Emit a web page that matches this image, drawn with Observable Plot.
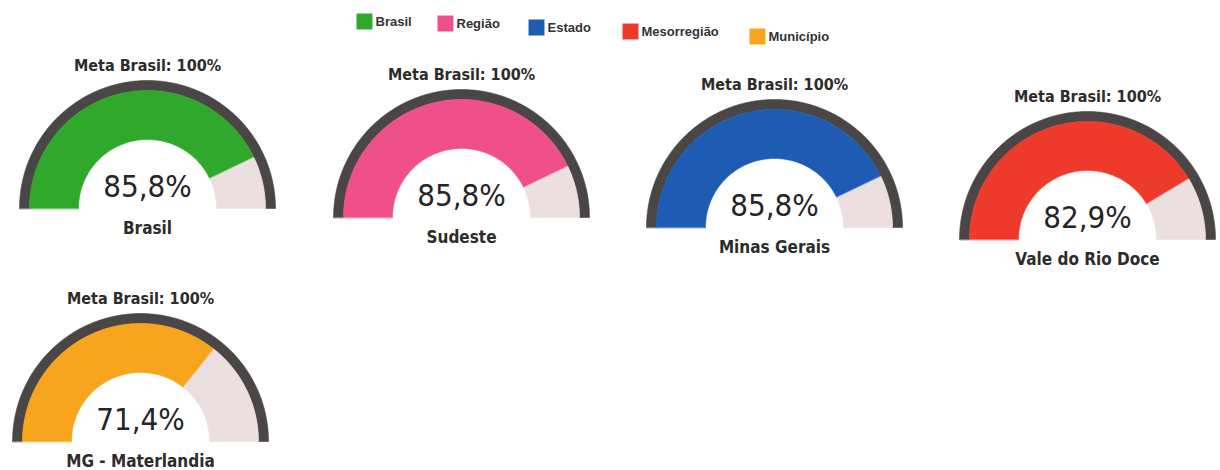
<!DOCTYPE html>
<html>
<head>
<meta charset="utf-8">
<script src="https://cdn.jsdelivr.net/npm/d3@7"></script>
<script src="https://cdn.jsdelivr.net/npm/@observablehq/plot@0.6"></script>
<style>
  html, body { margin: 0; padding: 0; background: #fff; }
  #chart svg { display: block; }
</style>
</head>
<body>
<div id="chart"></div>
<script>
// ---- data ----
const categories = ["Brasil", "Região", "Estado", "Mesorregião", "Município"];
const places = ["Brasil", "Sudeste", "Minas Gerais", "Vale do Rio Doce", "MG - Materlandia"];
const values = [85.8, 85.8, 85.8, 82.9, 71.4];
const goal = 100;
const goalLabel = "Meta Brasil: 100%";
const colors = ["#2fa82b", "#f0508a", "#1d5cb2", "#ee3a2a", "#f7a51c"];

// ---- layout (gauge centres on the baseline, legend positions) ----
const W = 1220, H = 470;
const centers = [[147, 208], [461, 217], [774, 227], [1087, 239], [140, 441]];
const R_OUT = 128, R_RING = 118, R_IN = 69;
const legendX = [364, 445, 536, 630, 757];
const legendY = [21, 23, 27, 31, 36];
const restColor = "#ecdfe0";
const ringColor = "#4b4646";
const fmt = v => v.toFixed(1).replace(".", ",") + "%";

// build band polygons (sampled along arcs) from the values
function band(id, cx, cy, f0, f1, r0, r1, color) {
  const pts = [];
  const n = Math.max(2, Math.ceil((f1 - f0) * 160));
  for (let i = 0; i <= n; i++) {
    const t = Math.PI * (1 - (f0 + (f1 - f0) * i / n));
    pts.push({id, x: cx + r1 * Math.cos(t), y: cy - r1 * Math.sin(t), color});
  }
  for (let i = n; i >= 0; i--) {
    const t = Math.PI * (1 - (f0 + (f1 - f0) * i / n));
    pts.push({id, x: cx + r0 * Math.cos(t), y: cy - r0 * Math.sin(t), color});
  }
  return pts;
}

const polys = [];
const gauges = places.map((p, i) => {
  const [cx, cy] = centers[i];
  const f = values[i] / goal;
  polys.push(...band(`ring${i}`, cx, cy, 0, 1, R_RING, R_OUT, ringColor));
  polys.push(...band(`val${i}`, cx, cy, 0, f, R_IN, R_RING, colors[i]));
  polys.push(...band(`rest${i}`, cx, cy, f, 1, R_IN, R_RING, restColor));
  return {place: p, value: values[i], cx, cy, color: colors[i]};
});

const legend = categories.map((c, i) => ({cat: c, x: legendX[i], y: legendY[i], color: colors[i]}));

const chart = Plot.plot({
  width: W,
  height: H,
  margin: 0,
  x: {domain: [0, W], range: [0, W], axis: null},
  y: {domain: [0, H], range: [0, H], axis: null},
  color: {type: "identity"},
  style: {background: "#fff"},
  marks: [
    Plot.line(polys, {x: "x", y: "y", z: "id", fill: "color", stroke: "color", strokeWidth: 0.6, curve: "linear-closed"}),
    Plot.text(gauges, {x: "cx", y: d => d.cy - 143, text: () => goalLabel, fontSize: 16, fontWeight: "bold",
      fontFamily: "DejaVu Sans Condensed", fill: "#2e2b2b"}),
    Plot.text(gauges, {x: "cx", y: d => d.cy - 21, text: d => fmt(d.value), fontSize: 31,
      fontFamily: "DejaVu Sans Condensed", fill: "#262424"}),
    Plot.text(gauges, {x: "cx", y: d => d.cy + 20, text: "place", fontSize: 17, fontWeight: "bold",
      fontFamily: "DejaVu Sans Condensed", fill: "#2e2b2b"}),
    Plot.dot(legend, {x: "x", y: "y", symbol: "square", r: 9, fill: "color", stroke: null}),
    Plot.text(legend, {x: d => d.x + 11, y: "y", text: "cat", textAnchor: "start", fontSize: 13, fontWeight: "bold",
      fontFamily: "Liberation Sans", fill: "#333"})
  ]
});
document.getElementById("chart").appendChild(chart);
</script>
</body>
</html>
